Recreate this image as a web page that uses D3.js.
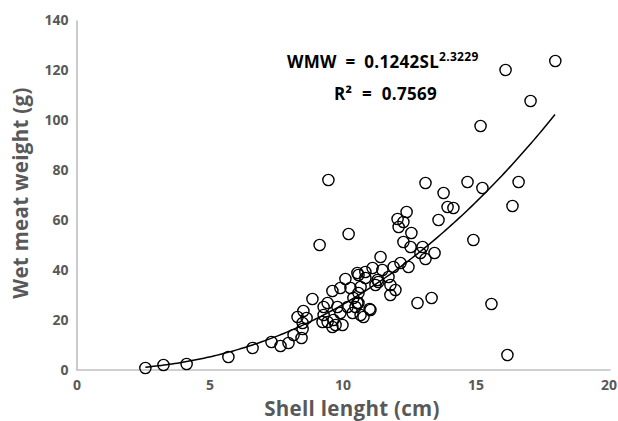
<!DOCTYPE html>
<html>
<head>
<meta charset="utf-8">
<script src="https://cdn.jsdelivr.net/npm/d3@7"></script>
<style>
  body { margin: 0; background: #fff; }
  text { font-family: "Open Sans", "Noto Sans", sans-serif; font-weight: bold; }
</style>
</head>
<body>
<script>
// shell length (cm) and wet meat weight (g)
var shellLength = [2.59, 3.27, 4.14, 5.71, 6.62, 7.33, 7.67, 7.97, 8.16, 8.31, 8.50, 8.53, 8.50, 8.46, 8.87, 8.65,
    9.14, 10.23, 9.29, 9.44, 9.62, 9.92, 10.11, 10.30, 10.60, 10.86, 11.13, 11.43, 11.50, 11.73, 11.92, 12.18,
    12.48, 12.07, 12.41, 12.29, 12.11, 12.59, 12.29, 12.56, 13.01, 12.93, 13.12, 13.46, 13.61, 13.95, 14.17,
    13.80, 13.12, 14.70, 15.26, 14.92, 16.39, 16.62, 12.82, 13.35, 15.60, 16.20, 16.13, 18.00, 17.07, 15.19, 9.47,
    9.29, 9.44, 9.62, 9.66, 9.81, 9.92, 10.00, 10.19, 10.38, 10.49, 10.60, 10.79, 11.02, 10.41, 10.60, 10.86,
    11.24, 11.32, 11.80, 11.80, 11.99, 9.25, 9.74, 10.68, 10.56, 10.68, 10.56, 11.05, 11.35];
var meatWeight = [0.8, 2.0, 2.4, 5.2, 8.8, 11.2, 9.6, 10.8, 14.0, 21.2, 18.8, 23.6, 16.4, 12.8, 28.4, 20.8,
    50.0, 54.4, 25.2, 26.8, 31.6, 32.8, 36.4, 32.8, 38.0, 39.2, 40.8, 45.2, 40.0, 37.2, 41.2, 42.8,
    41.2, 60.4, 63.2, 59.2, 57.2, 54.8, 51.2, 49.2, 49.2, 46.8, 44.4, 46.8, 60.0, 65.2, 64.8,
    70.8, 74.8, 75.2, 72.8, 52.0, 65.6, 75.2, 26.8, 28.8, 26.4, 6.0, 120.0, 123.6, 107.6, 97.6, 76.0,
    22.0, 19.2, 17.2, 20.0, 25.2, 22.8, 18.0, 25.2, 22.8, 25.2, 26.8, 21.2, 24.4, 28.8, 30.8, 36.8,
    34.0, 36.0, 34.0, 30.0, 32.0, 19.2, 18.0, 22.0, 26.8, 33.2, 38.8, 24.0, 35.2];

var xTicks = [0, 5, 10, 15, 20];
var yTicks = [0, 20, 40, 60, 80, 100, 120, 140];

// power fit WMW = a * SL^b
var fitA = 0.1242, fitB = 2.3229;
var fitRange = [2.59, 18.0];

var svg = d3.select('body')
    .append('svg')
    .attr('width', 618)
    .attr('height', 421);

var x = d3.scaleLinear().domain([0, 20]).range([76.5, 608.5]);
var y = d3.scaleLinear().domain([0, 140]).range([370, 20]);

// axes
var xAxis = svg.append('g')
    .attr('transform', 'translate(0,370)')
    .call(d3.axisBottom(x).tickValues(xTicks).tickSize(0).tickPadding(10));
xAxis.select('.domain').attr('stroke', '#bfbfbf').attr('stroke-width', 1.6)
    .attr('d', 'M' + x(0) + ',0H610.5');
xAxis.selectAll('text').attr('fill', '#595959').style('font-size', '14px');

var yAxis = svg.append('g')
    .attr('transform', 'translate(' + x(0) + ',0)')
    .call(d3.axisLeft(y).tickValues(yTicks).tickSize(0).tickPadding(8));
yAxis.select('.domain').attr('stroke', '#bfbfbf').attr('stroke-width', 1.6);
yAxis.selectAll('text').attr('fill', '#595959').style('font-size', '14px');

// fitted curve
var curvePts = d3.range(fitRange[0], fitRange[1] + 0.001, 0.1).map(function(s){
    return [s, fitA * Math.pow(s, fitB)];
});
svg.append('path')
    .datum(curvePts)
    .attr('fill', 'none')
    .attr('stroke', '#000')
    .attr('stroke-width', 1.5)
    .attr('d', d3.line().x(function(d){ return x(d[0]); }).y(function(d){ return y(d[1]); }));

// points
svg.selectAll('circle.pt')
    .data(shellLength)
    .enter()
    .append('circle')
    .attr('class', 'pt')
    .attr('cx', function(d){ return x(d); })
    .attr('cy', function(d, i){ return y(meatWeight[i]); })
    .attr('r', 5.6)
    .attr('fill', 'none')
    .attr('stroke', '#000')
    .attr('stroke-width', 1.4);

// equation
var eq = svg.append('text')
    .attr('x', 287)
    .attr('y', 68)
    .style('font-size', '17px')
    .style('word-spacing', '4px')
    .style('letter-spacing', '0.3px')
    .attr('fill', '#000');
eq.append('tspan').text('WMW = 0.1242SL');
eq.append('tspan').attr('dy', -7).style('font-size', '12px').text('2.3229');

svg.append('text')
    .attr('x', 334)
    .attr('y', 100)
    .style('font-size', '17px')
    .style('word-spacing', '5px')
    .style('letter-spacing', '0.3px')
    .attr('fill', '#000')
    .text('R² = 0.7569');

// axis titles
svg.append('text')
    .attr('x', 352)
    .attr('y', 416)
    .attr('text-anchor', 'middle')
    .attr('fill', '#595959')
    .style('font-size', '20.5px')
    .style('letter-spacing', '0.3px')
    .text('Shell lenght (cm)');

svg.append('text')
    .attr('transform', 'translate(28,193) rotate(-90)')
    .attr('text-anchor', 'middle')
    .attr('fill', '#595959')
    .style('font-size', '20.5px')
    .style('letter-spacing', '0.3px')
    .text('Wet meat weight (g)');
</script>
</body>
</html>
